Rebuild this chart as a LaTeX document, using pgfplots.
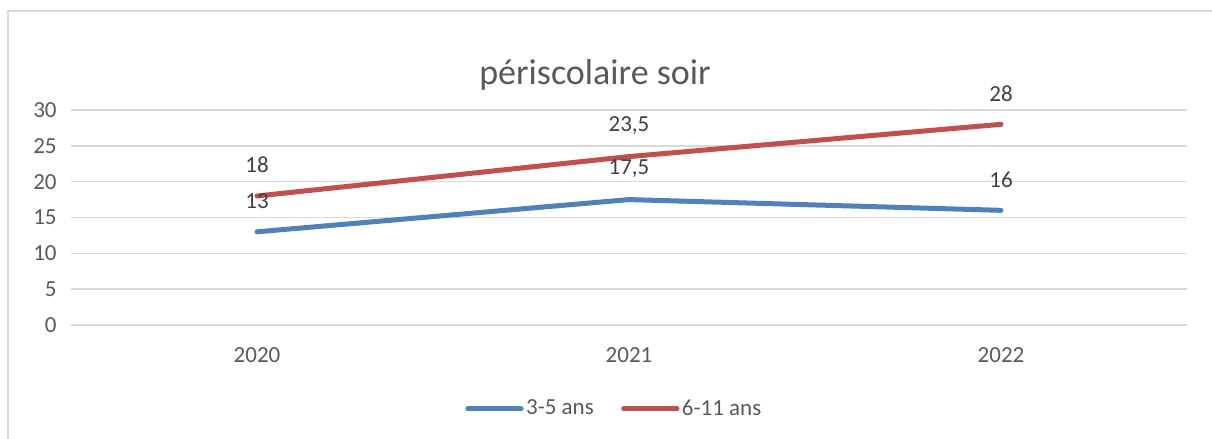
\documentclass[border=0pt]{standalone}
\usepackage{pgfplots}
\pgfplotsset{compat=1.18}
\usepackage{fontspec}
\setmainfont{Carlito}
\definecolor{serA}{HTML}{4F81BD}
\definecolor{serB}{HTML}{C0504D}
\definecolor{gridc}{HTML}{D9D9D9}
\definecolor{txt}{HTML}{595959}
\definecolor{lbl}{HTML}{404040}
\begin{document}
\begin{tikzpicture}[x=1pt,y=1pt]
\path[use as bounding box] (0,0) rectangle (606,219.5);
\draw[gridc, line width=0.9pt] (4,-2) -- (4,214) -- (608,214);
\node[font=\fontsize{18}{21}\selectfont, text=txt] at (297.5,182) {périscolaire soir};
\begin{axis}[
  at={(35.5pt,57pt)}, anchor=south west,
  width=558pt, height=107.5pt, scale only axis,
  xmin=-0.5, xmax=2.5, ymin=0, ymax=30,
  ytick={0,5,...,30}, xtick={0,1,2}, xticklabels={2020,2021,2022},
  major tick length=0pt,
  axis x line=bottom, axis y line=left,
  x axis line style={draw=gridc, line width=0.75pt, -},
  y axis line style={draw=none},
  ymajorgrids, major grid style={draw=gridc, line width=0.75pt},
  tick label style={font=\fontsize{11.5}{13}\selectfont, text=txt},
  /pgf/number format/assume math mode=true,
  yticklabel style={anchor=east, inner sep=0pt, xshift=-7pt},
  xticklabel style={anchor=center, inner sep=0pt, yshift=-15pt},
  legend style={at={(0.487,-0.39)}, anchor=center, draw=none, fill=none,
    font=\fontsize{11.5}{13}\selectfont, text=txt,
    legend columns=2,
    /tikz/every even column/.append style={column sep=12.5pt},
    nodes={inner sep=1.2pt}},
  legend image code/.code={\draw[#1, line width=2.5pt, line cap=round] (0.8pt,0) -- (27.5pt,0);},
  clip=false,
]
\addplot[serA, line width=2.5pt, line cap=round, line join=round] coordinates {(0,13) (1,17.5) (2,16)};
\addlegendentry{3-5 ans}
\addplot[serB, line width=2.5pt, line cap=round, line join=round] coordinates {(0,18) (1,23.5) (2,28)};
\addlegendentry{6-11 ans}
\addplot[draw=none, forget plot, point meta=y,
  nodes near coords={\pgfmathprintnumber[use comma, assume math mode=true]{\pgfplotspointmeta}},
  nodes near coords style={anchor=center, yshift=15.5pt, font=\fontsize{11.5}{13}\selectfont, text=lbl}]
  coordinates {(0,13) (1,17.5) (2,16)};
\addplot[draw=none, forget plot, point meta=y,
  nodes near coords={\pgfmathprintnumber[use comma, assume math mode=true]{\pgfplotspointmeta}},
  nodes near coords style={anchor=center, yshift=15.5pt, font=\fontsize{11.5}{13}\selectfont, text=lbl}]
  coordinates {(0,18) (1,23.5) (2,28)};
\end{axis}
\end{tikzpicture}
\end{document}
